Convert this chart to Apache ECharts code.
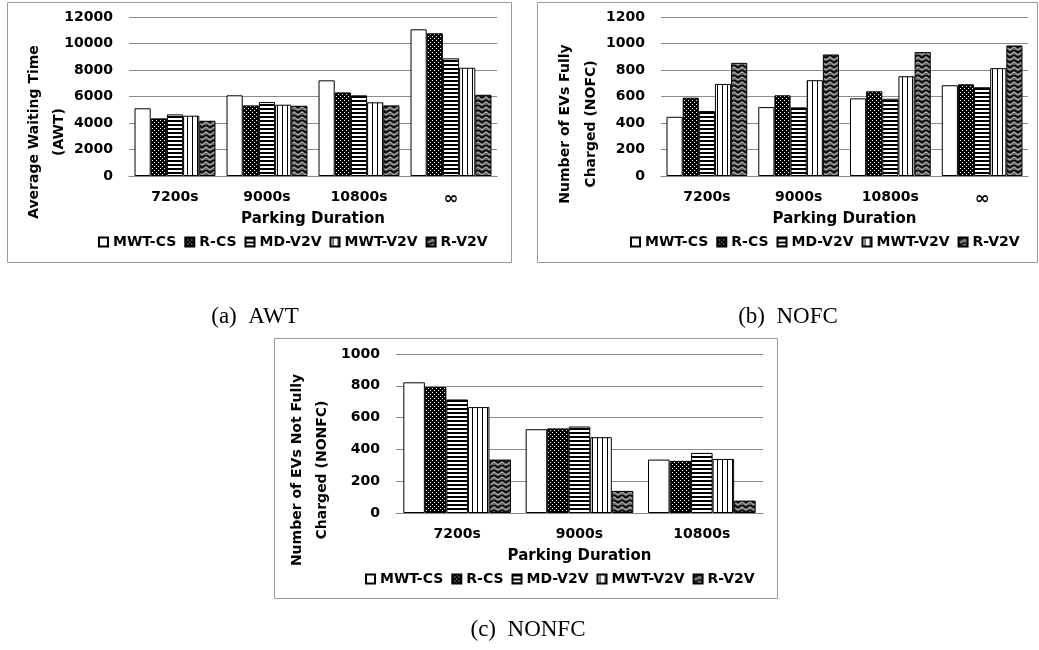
<!DOCTYPE html>
<html>
<head>
<meta charset="utf-8">
<script src="https://cdn.jsdelivr.net/npm/echarts@6/dist/echarts.min.js"></script>
<style>
html,body{margin:0;padding:0;background:#fff;}
#chart{width:1039px;height:650px;}
</style>
</head>
<body>
<div id="chart"></div>
<script>
// ---------- data ----------
var seriesNames = ['MWT-CS', 'R-CS', 'MD-V2V', 'MWT-V2V', 'R-V2V'];

var awtCategories = ['7200s', '9000s', '10800s', '\u221E'];
var awtMWTCS  = [5110, 6090, 7220, 11070];
var awtRCS    = [4350, 5330, 6310, 10770];
var awtMDV2V  = [4650, 5580, 6090, 8880];
var awtMWTV2V = [4550, 5380, 5560, 8170];
var awtRV2V   = [4170, 5300, 5330, 6130];
var awtTicks  = [0, 2000, 4000, 6000, 8000, 10000, 12000];

var nofcCategories = ['7200s', '9000s', '10800s', '\u221E'];
var nofcMWTCS  = [447, 520, 586, 685];
var nofcRCS    = [591, 609, 639, 692];
var nofcMDV2V  = [490, 518, 583, 670];
var nofcMWTV2V = [695, 723, 753, 814];
var nofcRV2V   = [854, 917, 935, 985];
var nofcTicks  = [0, 200, 400, 600, 800, 1000, 1200];

var nonfcCategories = ['7200s', '9000s', '10800s'];
var nonfcMWTCS  = [822, 527, 336];
var nonfcRCS    = [792, 532, 328];
var nonfcMDV2V  = [714, 544, 378];
var nonfcMWTV2V = [666, 477, 340];
var nonfcRV2V   = [336, 139, 78];
var nonfcTicks  = [0, 200, 400, 600, 800, 1000];

// ---------- patterns ----------
function mk(w, h, draw) {
  var c = document.createElement('canvas');
  c.width = w; c.height = h;
  draw(c.getContext('2d'));
  return c;
}
var patWhite = '#ffffff';
var patDots = { image: mk(4, 4, function (g) {
  g.fillStyle = '#000'; g.fillRect(0, 0, 4, 4);
  g.fillStyle = '#fff'; g.fillRect(0, 0, 1, 1); g.fillRect(2, 2, 1, 1);
}), repeat: 'repeat' };
var patHStripe = { image: mk(4, 4, function (g) {
  g.fillStyle = '#fff'; g.fillRect(0, 0, 4, 4);
  g.fillStyle = '#000'; g.fillRect(0, 0, 4, 2);
}), repeat: 'repeat' };
var patVStripe = { image: mk(5, 2, function (g) {
  g.fillStyle = '#fff'; g.fillRect(0, 0, 5, 2);
  g.fillStyle = '#000'; g.fillRect(2, 0, 1, 2);
}), repeat: 'repeat' };
var patWave = { image: mk(8, 5, function (g) {
  g.fillStyle = '#5a5a5a'; g.fillRect(0, 0, 8, 5);
  function wave(y0, col, lw) {
    g.strokeStyle = col; g.lineWidth = lw; g.beginPath();
    for (var x = -1; x <= 9; x += 0.5) {
      var y = y0 + 1.1 * Math.sin(2 * Math.PI * x / 8);
      if (x === -1) g.moveTo(x, y); else g.lineTo(x, y);
    }
    g.stroke();
  }
  wave(1.2, '#000', 1.4);
  wave(3.6, '#d8d8d8', 0.9);
}), repeat: 'repeat' };
var fills = [patWhite, patDots, patHStripe, patVStripe, patWave];

// ---------- layout helpers ----------
var FONT = 'DejaVu Sans';
var grids = [
  { left: 129, top: 17, width: 368, height: 159 },
  { left: 661, top: 17, width: 367, height: 159 },
  { left: 396, top: 354, width: 367, height: 159 }
];
var yMax = [12000, 1200, 1000];
var yInt = [2000, 200, 200];
var cats = [awtCategories, nofcCategories, nonfcCategories];
var dataSets = [
  [awtMWTCS, awtRCS, awtMDV2V, awtMWTV2V, awtRV2V],
  [nofcMWTCS, nofcRCS, nofcMDV2V, nofcMWTV2V, nofcRV2V],
  [nonfcMWTCS, nonfcRCS, nonfcMDV2V, nonfcMWTV2V, nonfcRV2V]
];

var xAxes = [], yAxes = [], series = [], legends = [];
for (var i = 0; i < 3; i++) {
  xAxes.push({
    type: 'category', gridIndex: i, data: cats[i],
    axisLine: { lineStyle: { color: '#888', width: 1 } },
    axisTick: { show: false },
    axisLabel: { color: '#000', fontFamily: FONT, fontWeight: 'bold', fontSize: 14, margin: 14,
      formatter: function (v) { return v === '\u221E' ? '{inf|' + v + '}' : v; },
      rich: { inf: { fontFamily: FONT, fontWeight: 'bold', fontSize: 18, color: '#000' } } },
    name: 'Parking Duration', nameLocation: 'middle', nameGap: 36,
    nameTextStyle: { color: '#000', fontFamily: FONT, fontWeight: 'bold', fontSize: 15 }
  });
  yAxes.push({
    type: 'value', gridIndex: i, min: 0, max: yMax[i], interval: yInt[i],
    axisLine: { show: false }, axisTick: { show: false },
    splitLine: { lineStyle: { color: '#8c8c8c', width: 1 } },
    axisLabel: { color: '#000', fontFamily: FONT, fontWeight: 'bold', fontSize: 14, margin: 16,
      formatter: function (v) { return String(v); } }
  });
  for (var s = 0; s < 5; s++) {
    series.push({
      type: 'bar', name: seriesNames[s], xAxisIndex: i, yAxisIndex: i,
      data: dataSets[i][s], barGap: '0%', barCategoryGap: '12%',
      itemStyle: { color: fills[s], borderColor: '#000', borderWidth: 1 },
      emphasis: { disabled: true }
    });
  }
}
var legendPos = [{ left: 98, top: 235 }, { left: 630, top: 235 }, { left: 365, top: 572 }];
for (var j = 0; j < 3; j++) {
  legends.push({
    left: legendPos[j].left, top: legendPos[j].top, padding: 0,
    orient: 'horizontal', icon: 'rect', itemWidth: 9, itemHeight: 9, itemGap: 8,
    data: seriesNames, selectedMode: false,
    textStyle: { color: '#000', fontFamily: FONT, fontWeight: 'bold', fontSize: 14 }
  });
}

function vText(txt, x, y) {
  return { type: 'text', x: x, y: y, rotation: Math.PI / 2, silent: true,
    style: { text: txt, fill: '#000', font: 'bold 14px "DejaVu Sans"',
      textAlign: 'center', textVerticalAlign: 'middle', align: 'center', verticalAlign: 'middle' } };
}
function cap(txt, x, y) {
  return { type: 'text', x: x, y: y, silent: true,
    style: { text: txt, fill: '#000', font: '23px "Liberation Serif"',
      textAlign: 'center', textVerticalAlign: 'middle', align: 'center', verticalAlign: 'middle' } };
}
function box(x1, y1, x2, y2) {
  return { type: 'rect', silent: true, shape: { x: x1 + 0.5, y: y1 + 0.5, width: x2 - x1, height: y2 - y1 },
    style: { fill: 'none', stroke: '#9a9a9a', lineWidth: 1 } };
}

var option = {
  animation: false,
  backgroundColor: '#fff',
  grid: grids,
  xAxis: xAxes,
  yAxis: yAxes,
  legend: legends,
  series: series,
  graphic: [
    box(7, 2, 511, 262),
    box(537, 2, 1037, 262),
    box(274, 338, 777, 598),
    vText('Average Waiting Time', 34, 132),
    vText('(AWT)', 59, 132),
    vText('Number of EVs Fully', 565, 124),
    vText('Charged (NOFC)', 591, 124),
    vText('Number of EVs Not Fully', 297, 470),
    vText('Charged (NONFC)', 322, 470),
    cap('(a)  AWT', 255, 317),
    cap('(b)  NOFC', 788, 317),
    cap('(c)  NONFC', 528, 630)
  ]
};
var chart = echarts.init(document.getElementById('chart'), null, { renderer: 'canvas' });
chart.setOption(option);
</script>
</body>
</html>
